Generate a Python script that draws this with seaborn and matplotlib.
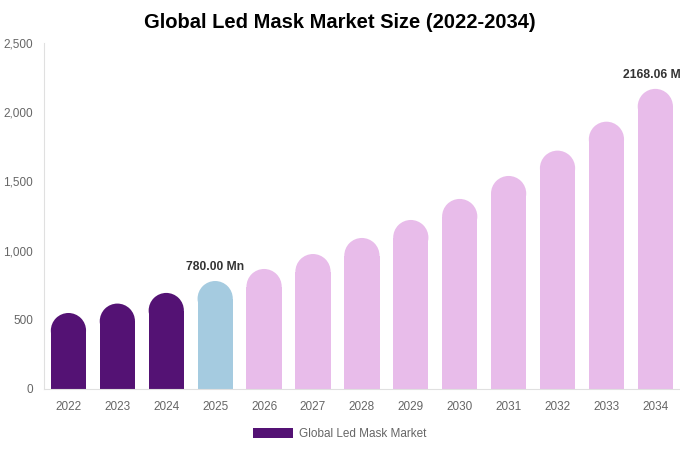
import matplotlib
matplotlib.use("Agg")
import matplotlib.pyplot as plt
import matplotlib.ticker as mticker
from matplotlib.patches import Ellipse, Patch
import seaborn as sns
import pandas as pd

years = ["2022", "2023", "2024", "2025", "2026", "2027", "2028",
         "2029", "2030", "2031", "2032", "2033", "2034"]
market_size = [549, 617, 694, 780.00, 867, 975, 1091,
               1221, 1373, 1539, 1722, 1931, 2168.06]
bar_colors = ["#541274"] * 3 + ["#a5cbe0"] + ["#e8bcea"] * 9
labelled = {"2025": "780.00 Mn", "2034": "2168.06 Mn"}
y_ticks = [0, 500, 1000, 1500, 2000, 2500]

sns.set_theme(style="white")
plt.rcParams["font.family"] = ["Liberation Sans", "DejaVu Sans"]

df = pd.DataFrame({"year": years, "value": market_size})

fig = plt.figure(figsize=(6.8, 4.5), dpi=100)
ax = fig.add_axes([0.0647, 0.1356, 0.935, 0.769])

bar_w = 0.72
sns.barplot(data=df, x="year", y="value", hue="year", palette=bar_colors,
            legend=False, width=bar_w, saturation=1, ax=ax)

ax.set_xlim(-0.5, 12.5)
ax.set_ylim(0, 2500)

# round the tops: shorten each bar by its radius and cap it with a half ellipse
fig.canvas.draw()
px_per_unit = ax.transData.transform((0, 1))[1] - ax.transData.transform((0, 0))[1]
px_per_cat = ax.transData.transform((1, 0))[0] - ax.transData.transform((0, 0))[0]
r_px = bar_w * px_per_cat / 2
r_data = r_px / px_per_unit
for patch, color in zip(ax.patches, bar_colors):
    h = patch.get_height()
    x0 = patch.get_x()
    w = patch.get_width()
    patch.set_height(h - r_data)
    patch.set_linewidth(0)
    cap = Ellipse((x0 + w / 2, h - r_data), w, 2 * r_data,
                  facecolor=color, edgecolor="none", clip_on=False)
    ax.add_patch(cap)

for i, (yr, v) in enumerate(zip(years, market_size)):
    if yr in labelled:
        ax.text(i, v + 60, labelled[yr], ha="center", va="bottom",
                fontsize=8.7, fontweight="bold", color="#333333", clip_on=False)

ax.set_yticks(y_ticks)
ax.yaxis.set_major_formatter(mticker.FuncFormatter(lambda v, p: f"{int(v):,}"))
ax.tick_params(axis="both", length=0, labelsize=8.5, colors="#666666")
ax.tick_params(axis="y", pad=8)
ax.tick_params(axis="x", pad=9)
ax.set_xlabel("")
ax.set_ylabel("")
for s in ["top", "right"]:
    ax.spines[s].set_visible(False)
for s in ["left", "bottom"]:
    ax.spines[s].set_color("#e0e0e0")
    ax.spines[s].set_linewidth(0.8)

fig.suptitle("Global Led Mask Market Size (2022-2034)", fontsize=14.5,
             fontweight="bold", y=0.97, color="#000000")

handle = Patch(facecolor="#541274", edgecolor="none", label="Global Led Mask Market")
fig.legend(handles=[handle], loc="center", bbox_to_anchor=(0.499, 0.036),
           frameon=False, fontsize=8.5, handlelength=3.4, handleheight=1.0,
           handletextpad=0.5, labelcolor="#666666")

fig.savefig("out.png", dpi=100, facecolor="white")
